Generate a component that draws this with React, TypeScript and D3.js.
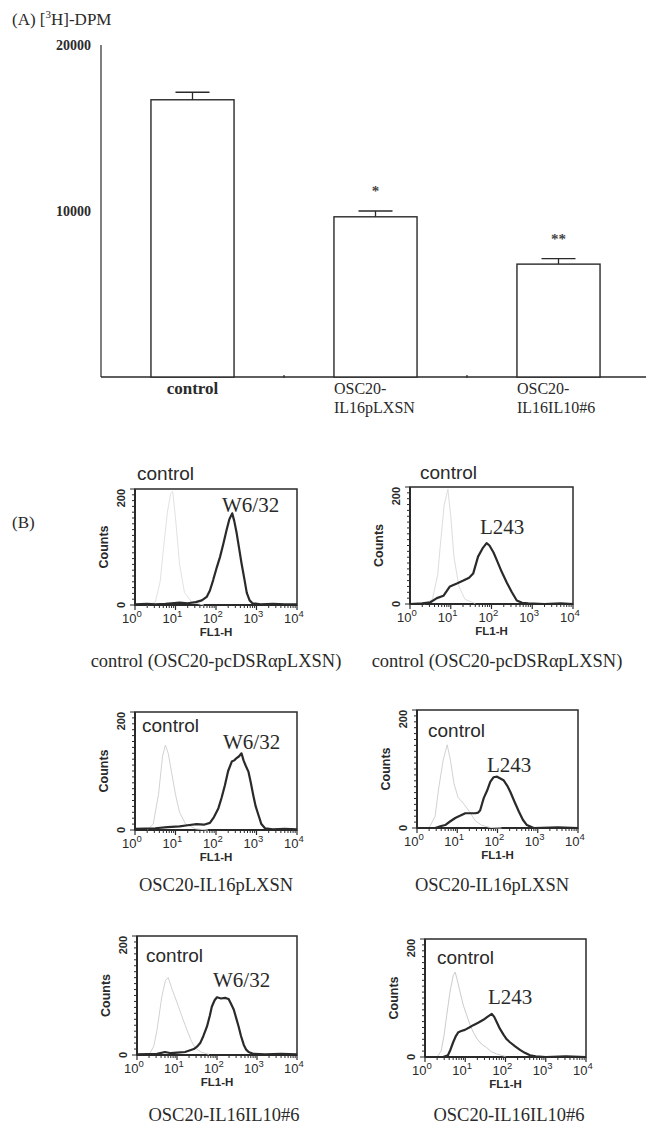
import React from "react";
import * as d3 from "d3";

// ---- Panel A: [3H]-thymidine uptake (DPM) ----
const DPM_GROUPS = ["control", "OSC20-IL16pLXSN", "OSC20-IL16IL10#6"];
const DPM_LABEL_LINES = [["control"], ["OSC20-", "IL16pLXSN"], ["OSC20-", "IL16IL10#6"]];
const DPM_MEAN = [16700, 9650, 6800];
const DPM_SEM = [450, 350, 330];
const DPM_SIGNIF = ["", "*", "**"];
const DPM_TICKS = [10000, 20000];

// ---- Panel B: flow cytometry histograms, points are [log10(FL1-H), counts] ----
const FL_DECADES = [0, 1, 2, 3, 4];
const COUNT_TICKS = [0, 200];

const ISO_CTRL_W632: [number, number][] = [
  [0.3, 0], [0.5, 5], [0.62, 40], [0.7, 95], [0.8, 160], [0.88, 192], [0.93, 196], [1.0, 150],
  [1.1, 70], [1.22, 22], [1.4, 5], [1.7, 0],
];
const STAIN_CTRL_W632: [number, number][] = [
  [0, 1], [0.3, 2], [0.5, 1], [0.75, 2], [0.9, 3], [1.1, 4], [1.3, 3], [1.5, 5], [1.65, 8], [1.77, 14],
  [1.85, 25], [1.93, 43], [2.02, 65], [2.1, 83], [2.18, 105], [2.26, 129], [2.33, 148], [2.4, 158],
  [2.45, 145], [2.51, 124], [2.57, 98], [2.63, 72], [2.7, 45], [2.76, 21], [2.83, 8], [2.9, 3],
  [3.1, 1], [3.4, 2], [3.7, 1], [4, 1],
];
const ISO_CTRL_L243: [number, number][] = [
  [0.35, 0], [0.55, 8], [0.68, 50], [0.74, 97], [0.84, 170], [0.93, 196], [1.0, 150], [1.08, 80],
  [1.2, 30], [1.35, 8], [1.6, 1],
];
const STAIN_CTRL_L243: [number, number][] = [
  [0, 0], [0.3, 1], [0.5, 3], [0.66, 10], [0.82, 14], [0.98, 30], [1.15, 35], [1.31, 40], [1.45, 45],
  [1.55, 52], [1.67, 81], [1.78, 95], [1.88, 104], [1.95, 100], [2.05, 88], [2.13, 75], [2.25, 55],
  [2.38, 36], [2.5, 20], [2.62, 6], [2.75, 2], [2.9, 1], [3.3, 0], [3.7, 1], [4, 0],
];
const ISO_IL16_W632: [number, number][] = [
  [0.3, 0], [0.45, 10], [0.58, 60], [0.68, 125], [0.75, 144], [0.82, 130], [0.9, 99], [1.0, 60],
  [1.1, 30], [1.25, 10], [1.5, 2], [1.8, 0],
];
const STAIN_IL16_W632: [number, number][] = [
  [0, 2], [0.5, 3], [0.8, 5], [1.1, 6], [1.3, 8], [1.52, 10], [1.7, 9], [1.85, 12], [1.95, 22],
  [2.06, 37], [2.14, 55], [2.22, 76], [2.3, 100], [2.39, 116], [2.45, 118], [2.51, 122], [2.57, 125],
  [2.63, 130], [2.68, 118], [2.74, 108], [2.8, 99], [2.86, 80], [2.92, 59], [2.98, 40], [3.05, 25],
  [3.12, 10], [3.21, 3], [3.4, 1], [3.7, 2], [4, 1],
];
const ISO_IL16_L243: [number, number][] = [
  [0.3, 0], [0.45, 20], [0.54, 68], [0.65, 115], [0.75, 141], [0.83, 115], [0.92, 75], [1.02, 52],
  [1.15, 42], [1.3, 28], [1.45, 12], [1.6, 5], [1.8, 1], [2.1, 0],
];
const STAIN_IL16_L243: [number, number][] = [
  [0, 0], [0.45, 0], [0.58, 3], [0.7, 5], [0.82, 11], [0.95, 17], [1.08, 21], [1.2, 25], [1.33, 25],
  [1.45, 25], [1.52, 26], [1.57, 30], [1.62, 42], [1.66, 51], [1.74, 63], [1.82, 78], [1.9, 86],
  [1.99, 87], [2.07, 84], [2.15, 81], [2.24, 72], [2.32, 61], [2.42, 45], [2.53, 28], [2.63, 14],
  [2.73, 5], [2.9, 0], [3.5, 1], [4, 0],
];
const ISO_IL10_W632: [number, number][] = [
  [0.3, 0], [0.42, 15], [0.5, 42], [0.62, 98], [0.71, 125], [0.78, 130], [0.88, 110], [1.04, 81],
  [1.15, 60], [1.25, 42], [1.35, 25], [1.45, 12], [1.6, 5], [1.8, 1],
];
const STAIN_IL10_W632: [number, number][] = [
  [0, 1], [0.5, 2], [0.7, 5], [0.85, 3], [1.0, 4], [1.2, 5], [1.42, 10], [1.5, 14], [1.58, 20],
  [1.66, 32], [1.75, 48], [1.82, 66], [1.87, 81], [1.94, 92], [2.0, 97], [2.1, 95], [2.2, 96],
  [2.29, 94], [2.35, 86], [2.42, 76], [2.48, 62], [2.54, 48], [2.6, 32], [2.67, 17], [2.73, 9],
  [2.79, 5], [2.9, 2], [3.2, 1], [3.6, 2], [4, 1],
];
const ISO_IL10_L243: [number, number][] = [
  [0.3, 0], [0.4, 10], [0.47, 35], [0.54, 71], [0.62, 110], [0.7, 138], [0.75, 144], [0.82, 125],
  [0.95, 88], [1.04, 70], [1.12, 54], [1.2, 42], [1.28, 32], [1.4, 22], [1.53, 16], [1.65, 9],
  [1.78, 5], [2.0, 1],
];
const STAIN_IL10_L243: [number, number][] = [
  [0, 0], [0.45, 0], [0.57, 3], [0.63, 12], [0.7, 25], [0.77, 36], [0.83, 42], [0.9, 44], [0.99, 46],
  [1.1, 50], [1.2, 54], [1.32, 58], [1.45, 63], [1.55, 68], [1.66, 73], [1.72, 68], [1.79, 58],
  [1.86, 48], [1.95, 38], [2.03, 30], [2.11, 25], [2.24, 18], [2.36, 12], [2.48, 7], [2.61, 3],
  [2.75, 1], [3.0, 0], [3.5, 1], [4, 0],
];

const HISTOGRAMS = [
  { antibody: "W6/32", caption: "control (OSC20-pcDSRαpLXSN)", iso: ISO_CTRL_W632, stain: STAIN_CTRL_W632 },
  { antibody: "L243", caption: "control (OSC20-pcDSRαpLXSN)", iso: ISO_CTRL_L243, stain: STAIN_CTRL_L243 },
  { antibody: "W6/32", caption: "OSC20-IL16pLXSN", iso: ISO_IL16_W632, stain: STAIN_IL16_W632 },
  { antibody: "L243", caption: "OSC20-IL16pLXSN", iso: ISO_IL16_L243, stain: STAIN_IL16_L243 },
  { antibody: "W6/32", caption: "OSC20-IL16IL10#6", iso: ISO_IL10_W632, stain: STAIN_IL10_W632 },
  { antibody: "L243", caption: "OSC20-IL16IL10#6", iso: ISO_IL10_L243, stain: STAIN_IL10_L243 },
];

// Plot box of each histogram, where its labels sit, and the isotype trace tone
const FRAMES = [
  { x0: 135, x1: 297, y0: 489, y1: 605, ctrl: [137, 480], ab: [222, 512], cap: [216, 667], isoTone: "#e2e2e2" },
  { x0: 410, x1: 573, y0: 487, y1: 604, ctrl: [420, 479], ab: [480, 534], cap: [497, 667], isoTone: "#dddddd" },
  { x0: 135, x1: 297, y0: 712, y1: 830, ctrl: [142, 732], ab: [223, 749], cap: [216, 891], isoTone: "#d2d2d2" },
  { x0: 417, x1: 578, y0: 710, y1: 828, ctrl: [428, 737], ab: [487, 772], cap: [492, 891], isoTone: "#d2d2d2" },
  { x0: 137, x1: 297, y0: 936, y1: 1055, ctrl: [146, 962], ab: [213, 987], cap: [224, 1121], isoTone: "#d2d2d2" },
  { x0: 425, x1: 586, y0: 939, y1: 1057, ctrl: [437, 964], ab: [488, 1004], cap: [509, 1121], isoTone: "#cccccc" },
];

const INK = "#2a2a2a";
const SERIF = "'Liberation Serif', 'DejaVu Serif', serif";
const SANS = "'Liberation Sans', Arial, sans-serif";

function BarPanel() {
  const x = d3.scaleBand<string>().domain(DPM_GROUPS).range([101, 650]).paddingInner(0.546).paddingOuter(0.273);
  const y = d3.scaleLinear().domain([0, 20000]).range([377, 45]);
  const bw = x.bandwidth();
  const step = x.step();
  return (
    <g>
      <text x={12} y={25} fontFamily={SERIF} fontSize={17} fill={INK}>
        (A) [<tspan fontSize={11} dy={-7}>3</tspan><tspan dy={7}>H]-DPM</tspan>
      </text>
      <line x1={101} x2={101} y1={y(20000)} y2={y(0)} stroke={INK} strokeWidth={1.2} />
      <line x1={101} x2={646} y1={y(0)} y2={y(0)} stroke={INK} strokeWidth={1.4} />
      {DPM_GROUPS.slice(1).map((g) => (
        <line key={g} x1={x(g)! - (step - bw) / 2} x2={x(g)! - (step - bw) / 2} y1={y(0) - 2} y2={y(0) + 1} stroke={INK} strokeWidth={1.2} />
      ))}
      {DPM_TICKS.map((t) => (
        <text key={t} x={91} y={y(t) + 5} textAnchor="end" fontFamily={SERIF} fontWeight="bold" fontSize={14} fill={INK}>
          {t}
        </text>
      ))}
      {DPM_GROUPS.map((g, i) => {
        const x0 = x(g)!;
        const cx = x0 + bw / 2;
        const top = y(DPM_MEAN[i]);
        const errTop = y(DPM_MEAN[i] + DPM_SEM[i]);
        const single = DPM_LABEL_LINES[i].length === 1;
        return (
          <g key={g}>
            <rect x={x0} y={top} width={bw} height={y(0) - top} fill="#fff" stroke={INK} strokeWidth={1.4} />
            <line x1={cx} x2={cx} y1={top} y2={errTop} stroke={INK} strokeWidth={1.3} />
            <line x1={cx - 17} x2={cx + 17} y1={errTop} y2={errTop} stroke={INK} strokeWidth={1.4} />
            {DPM_SIGNIF[i] && (
              <text x={cx} y={errTop - 15} textAnchor="middle" fontFamily={SERIF} fontWeight="bold" fontSize={15} fill="#444">
                {DPM_SIGNIF[i]}
              </text>
            )}
            {DPM_LABEL_LINES[i].map((ln, j) => (
              <text
                key={j}
                x={single ? cx : x0}
                y={394 + j * 19}
                textAnchor={single ? "middle" : "start"}
                fontFamily={SERIF}
                fontWeight={single ? "bold" : "normal"}
                fontSize={single ? 17 : 16}
                fill={INK}
              >
                {ln}
              </text>
            ))}
          </g>
        );
      })}
    </g>
  );
}

function Histogram({ h, f }: { h: (typeof HISTOGRAMS)[number]; f: (typeof FRAMES)[number] }) {
  const x = d3.scaleLog().domain([1, 1e4]).range([f.x0, f.x1]);
  const y = d3.scaleLinear().domain([0, 200]).range([f.y1, f.y0]);
  const line = d3
    .line<[number, number]>()
    .x((d) => x(Math.pow(10, d[0])))
    .y((d) => y(d[1]));
  const minor: number[] = [];
  for (let d = 0; d < 4; d++) for (let k = 2; k <= 9; k++) minor.push(k * Math.pow(10, d));
  const countMinor = d3.range(0, 201, 10);
  return (
    <g>
      <rect x={f.x0} y={f.y0} width={f.x1 - f.x0} height={f.y1 - f.y0} fill="#fff" stroke={INK} strokeWidth={1.5} />
      <line x1={f.x0} x2={f.x0} y1={f.y0} y2={f.y1} stroke={INK} strokeWidth={2} />
      <line x1={f.x0} x2={f.x1} y1={f.y1} y2={f.y1} stroke={INK} strokeWidth={2} />
      {countMinor.map((c) => (
        <line key={c} x1={f.x0 - (c % 200 === 0 ? 5 : 3)} x2={f.x0} y1={y(c)} y2={y(c)} stroke={INK} strokeWidth={1} />
      ))}
      {minor.map((v) => (
        <line key={v} x1={x(v)} x2={x(v)} y1={f.y1} y2={f.y1 + 3} stroke={INK} strokeWidth={1} />
      ))}
      {FL_DECADES.map((e) => (
        <g key={e}>
          <line x1={x(Math.pow(10, e))} x2={x(Math.pow(10, e))} y1={f.y1} y2={f.y1 + 5} stroke={INK} strokeWidth={1.2} />
          <text x={x(Math.pow(10, e)) - 3} y={f.y1 + 18} textAnchor="middle" fontFamily={SANS} fontSize={13} fill={INK}>
            10<tspan fontSize={9.5} dy={-6}>{e}</tspan>
          </text>
        </g>
      ))}
      <text x={(f.x0 + f.x1) / 2} y={f.y1 + 31} textAnchor="middle" fontFamily={SANS} fontWeight="bold" fontSize={11.5} fill={INK}>
        FL1-H
      </text>
      {COUNT_TICKS.map((c) => (
        <text
          key={c}
          transform={`translate(${f.x0 - 10},${y(c)}) rotate(-90)`}
          textAnchor={c === 0 ? "middle" : "end"}
          fontFamily={SANS}
          fontWeight="bold"
          fontSize={11}
          fill={INK}
        >
          {c}
        </text>
      ))}
      <text
        transform={`translate(${f.x0 - 27},${(f.y0 + f.y1) / 2}) rotate(-90)`}
        textAnchor="middle"
        fontFamily={SANS}
        fontWeight="bold"
        fontSize={12.5}
        fill={INK}
      >
        Counts
      </text>
      <path d={line(h.iso) || ""} fill="none" stroke={f.isoTone} strokeWidth={1} />
      <path d={line(h.stain) || ""} fill="none" stroke={INK} strokeWidth={2.2} strokeLinejoin="round" />
      <text x={f.ctrl[0]} y={f.ctrl[1]} fontFamily={SANS} fontSize={19} fill={INK}>
        control
      </text>
      <text x={f.ab[0]} y={f.ab[1]} fontFamily={SERIF} fontSize={21} fill={INK}>
        {h.antibody}
      </text>
      <text x={f.cap[0]} y={f.cap[1]} textAnchor="middle" fontFamily={SERIF} fontSize={18.5} fill={INK}>
        {h.caption}
      </text>
    </g>
  );
}

export default function App() {
  return (
    <svg width={653} height={1125} style={{ position: "absolute", left: 0, top: 0, background: "#fff" }}>
      <rect width={653} height={1125} fill="#fff" />
      <BarPanel />
      <text x={12} y={528} fontFamily={SERIF} fontSize={17} fill={INK}>
        (B)
      </text>
      {HISTOGRAMS.map((h, i) => (
        <Histogram key={i} h={h} f={FRAMES[i]} />
      ))}
    </svg>
  );
}
